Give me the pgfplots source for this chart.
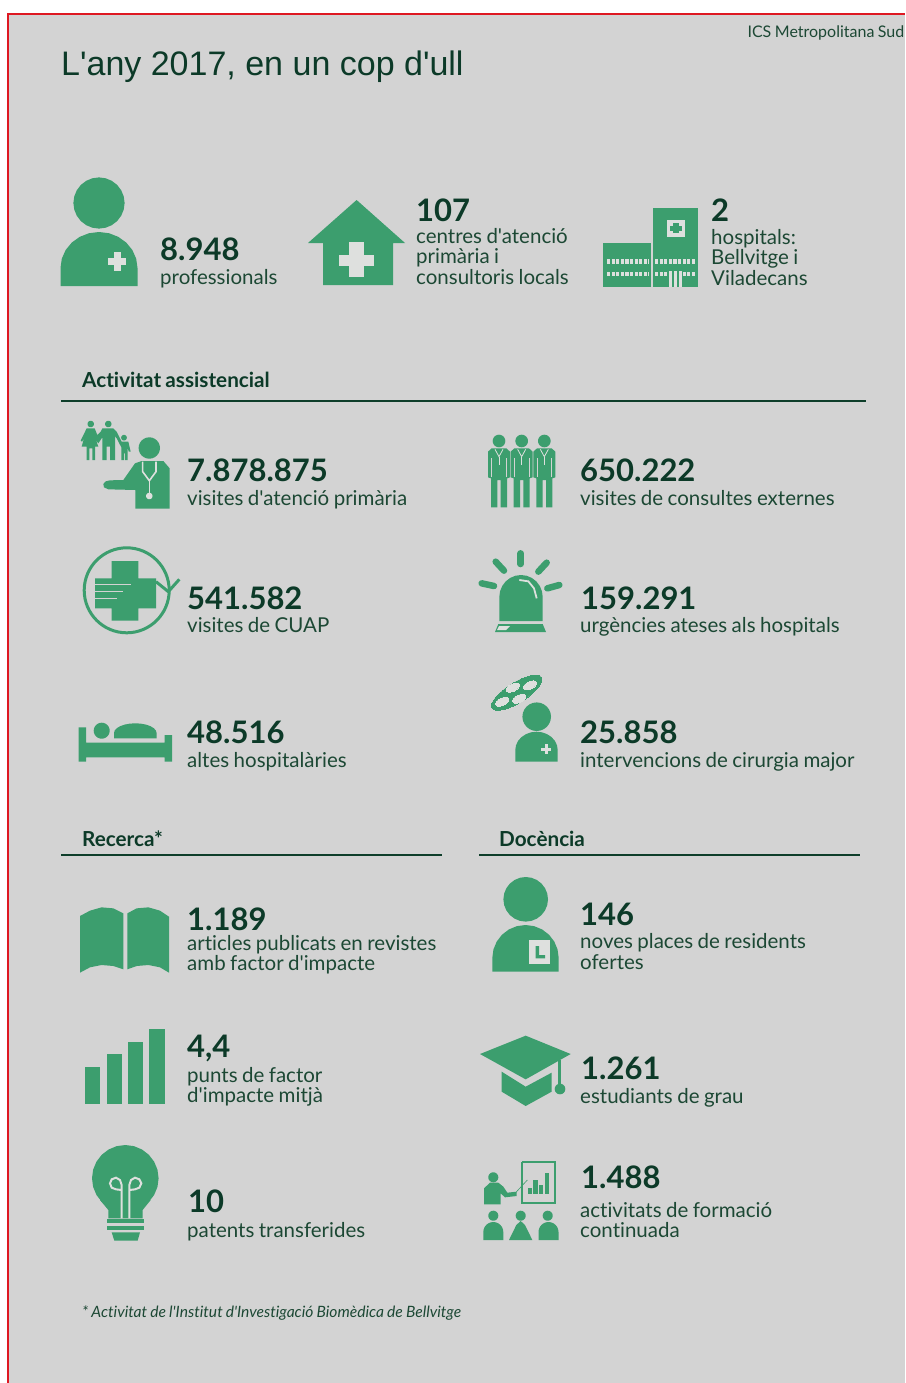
\documentclass[border=0pt]{standalone}
\usepackage{fontspec}
\setmainfont{Lato}[Ligatures={TeXOff,NoCommon},WordSpace=0.85]
\newfontfamily\titlefont{Liberation Sans}[Ligatures=TeXOff]
\usepackage{pgfplots}
\usepackage{pgfplotstable}
\pgfplotsset{compat=1.18}

\definecolor{bgc}{RGB}{211,211,211}
\definecolor{lightc}{RGB}{222,224,222}
\definecolor{igreen}{RGB}{60,158,110}
\definecolor{numc}{RGB}{12,58,40}
\definecolor{bodyc}{RGB}{28,72,52}
\definecolor{linec}{RGB}{14,62,42}
\definecolor{redc}{RGB}{222,24,34}

% unit dome: top of the person / lamp shapes
\pgfplotstableread{
u v w
-1 0 1
-1 0 0
-.966 .259 0
-.866 .5 0
-.707 .707 0
-.5 .866 0
-.259 .966 0
0 1 0
.259 .966 0
.5 .866 0
.707 .707 0
.866 .5 0
.966 .259 0
1 0 0
1 0 1
}\domeTable

% unit circle, as a polygon so that later strokes stay on top of it
\pgfplotstableread{
u v
1 0
.966 .259
.866 .5
.707 .707
.5 .866
.259 .966
0 1
-.259 .966
-.5 .866
-.707 .707
-.866 .5
-.966 .259
-1 0
-.966 -.259
-.866 -.5
-.707 -.707
-.5 -.866
-.259 -.966
0 -1
.259 -.966
.5 -.866
.707 -.707
.866 -.5
.966 -.259
}\circTable

\pgfplotsset{icon/.style={draw=none,mark=none,forget plot}}

% polygon in pixel coords
\newcommand{\pxpoly}[2][igreen]{\addplot[icon,fill=#1] coordinates {#2};}
\newcommand{\pxrect}[5][igreen]{\addplot[icon,fill=#1] coordinates {(#2,#3)(#4,#3)(#4,#5)(#2,#5)};}
% polygon / line in coords of a 3x crop with origin (ox,oy)
\newcommand{\zpoly}[4][igreen]{\addplot[icon,fill=#1,x filter/.expression={#2+x/3},y filter/.expression={#3+y/3}] coordinates {#4};}
\newcommand{\zline}[4][]{\addplot[forget plot,mark=none,#1,x filter/.expression={#2+x/3},y filter/.expression={#3+y/3}] coordinates {#4};}
\newcommand{\dotat}[4][igreen]{\addplot[icon,fill=#1] table[x expr=#2+#4*\thisrow{u},y expr=#3+#4*\thisrow{v}] {\circTable};}
\newcommand{\ellat}[6][igreen]{\addplot[forget plot,only marks,mark=*,color=#1,mark size=#4,mark options={rotate=#6,xscale=#5,fill=#1,draw=#1,line width=0pt}] coordinates {(#2,#3)};}
% dome: cx rx bottom top spring
\newcommand{\dome}[5]{\addplot[icon,fill=igreen] table[x expr=#1+#2*\thisrow{u},y expr=\thisrow{w}*#3+(1-\thisrow{w})*(#5-(#5-#4)*\thisrow{v})] {\domeTable};}
% standing doctor, ox = centre x
\newcommand{\docfig}[1]{%
  \zpoly{#1}{420}{(-22,85)(22,85)(33,95)(33,172)(24,175)(24,262)(5,262)(5,180)(-5,180)(-5,262)(-24,262)(-24,175)(-33,172)(-33,95)}
  \zline[color=lightc,line width=0.8pt]{#1}{420}{(-12,88)(0,110)(12,88)}
  \zline[color=lightc,line width=0.8pt]{#1}{420}{(0,110)(0,135)}
  \zline[color=bgc,line width=0.7pt]{#1}{420}{(-22,115)(-22,172)}
  \zline[color=bgc,line width=0.7pt]{#1}{420}{(22,115)(22,172)}
  \dotat{#1}{441}{6.3}
}

\newcommand{\numfont}{\fontsize{31}{31}\selectfont\bfseries}
\newcommand{\bodyfont}{\fontsize{20.5}{20.5}\selectfont}
\newcommand{\headfont}{\fontsize{20.7}{20.7}\selectfont\bfseries}
\newcommand{\num}[3]{\node[anchor=base west,inner sep=0pt,text=numc,font=\numfont] at (axis cs:#1,#2) {#3};}
\newcommand{\lab}[3]{\node[anchor=base west,inner sep=0pt,text=bodyc,font=\bodyfont] at (axis cs:#1,#2) {#3};}
\newcommand{\hd}[3]{\node[anchor=base west,inner sep=0pt,text=numc,font=\headfont] at (axis cs:#1,#2) {#3};}
\newcommand{\rulex}[3]{\addplot[forget plot,mark=none,color=linec,line width=2pt] coordinates {(#1,#3)(#2,#3)};}

\begin{document}
\begin{tikzpicture}
\begin{axis}[
    width=905pt, height=1383pt, scale only axis,
    xmin=0, xmax=905, ymin=0, ymax=1383, y dir=reverse,
    hide axis, clip=true,
  ]
  % page
  \pxrect[white]{0}{0}{905}{1383}
  \pxrect[bgc]{8}{14}{905}{1383}
  \addplot[forget plot,mark=none,color=redc,line width=2pt] coordinates {(8,1383)(8,14)(905,14)};

  % person 1
  \dotat{99}{203}{25.6}
  \dome{99}{38.5}{286}{232}{268}
  \pxrect[lightc]{108}{258}{126}{265}
  \pxrect[lightc]{113.5}{252}{120.5}{271}

  % house
  \pxpoly{(356.6,200)(405,243)(393,243)(393,285)(323,285)(323,243)(308,243)}
  \pxrect[lightc]{339}{254.5}{374}{266}
  \pxrect[lightc]{349}{242}{363.5}{277}

  % hospital
  \pxrect{603}{243}{651}{287}
  \pxrect{652.5}{208}{698}{287}
  \pxrect[lightc]{666.5}{220}{685}{237}
  \pxrect{672.7}{223}{678.7}{233}
  \pxrect{670}{225.5}{681.5}{230.5}
  \addplot[forget plot,mark=none,color=lightc,line width=5pt,dash pattern=on 3.2pt off 1.4pt] coordinates {(607,261.5)(649,261.5)};
  \addplot[forget plot,mark=none,color=lightc,line width=5pt,dash pattern=on 3.2pt off 1.4pt] coordinates {(655,261.5)(695,261.5)};
  \addplot[forget plot,mark=none,color=lightc,line width=4pt,dash pattern=on 3.2pt off 1.4pt] coordinates {(607,273.5)(649,273.5)};
  \addplot[forget plot,mark=none,color=lightc,line width=4pt,dash pattern=on 3.2pt off 1.4pt] coordinates {(655,273.5)(695,273.5)};
  \pxrect{668}{270}{683}{278}
  \pxrect[lightc]{669}{271}{671.5}{287}
  \pxrect[lightc]{674}{271}{676.5}{287}
  \pxrect[lightc]{679}{271}{681.5}{287}

  % rules
  \rulex{61}{866}{401}
  \rulex{61}{442}{855}
  \rulex{479}{860}{855}

  % family + doctor
  \dotat{90.7}{424}{3.2}
  \dotat{108.3}{424}{3.2}
  \dotat{124}{437.7}{2.8}
  \zpoly{60}{410}{(80,55)(104,55)(112,75)(122,65)(127,55)(160,55)(170,65)(185,95)(205,95)(212,125)(206,125)(203,112)(203,150)(195,150)(195,130)(192,130)(192,150)(184,150)(184,112)(170,85)(165,78)(165,150)(150,150)(150,110)(140,110)(140,150)(127,150)(127,82)(115,100)(108,90)(115,110)(105,110)(105,150)(97,150)(97,115)(88,115)(88,150)(80,150)(80,110)(65,110)(72,85)(66,95)(62,92)}
  \dotat{149.3}{448}{10.7}
  \zpoly{60}{410}{(329,296)(226,296)(226,240)(145,238)(132,232)(130,222)(137,214)(150,211)(190,210)(225,160)(245,153)(310,153)(329,175)}
  \zline[color=lightc,line width=1.6pt]{60}{410}{(248,155)(248,185)(268,212)(288,185)(288,155)}
  \zline[color=lightc,line width=1.6pt]{60}{410}{(268,212)(268,255)}
  \dotat[lightc]{149.3}{496}{3.2}

  % CUAP
  \addplot[forget plot,only marks,mark=o,color=igreen,mark size=42.5,mark options={line width=3pt}] coordinates {(126.7,590.3)};
  \zline[color=igreen,line width=3pt]{60}{410}{(288,515)(325,545)(358,508)}
  \zpoly{60}{410}{(155,453)(235,453)(235,505)(288,505)(288,595)(235,595)(235,632)(155,632)(155,595)(105,595)(105,505)(155,505)}
  \zline[color=bgc,line width=1.5pt]{60}{410}{(103,523)(212,523)}
  \zline[color=bgc,line width=1.5pt]{60}{410}{(103,545)(190,545)}
  \zline[color=bgc,line width=1.5pt]{60}{410}{(103,566)(170,566)}

  % bed
  \zpoly{60}{700}{(56,82)(78,82)(78,128)(314,128)(314,105)(336,105)(336,185)(314,185)(314,172)(78,172)(78,185)(56,185)}
  \dotat{101.7}{730.7}{8}
  \dome{135.3}{21.3}{738.3}{723.3}{733}

  % three doctors
  \docfig{499}
  \docfig{521.67}
  \docfig{544.33}

  % alarm
  \zline[color=igreen,line width=6.5pt,line cap=round]{470}{420}{(152,400)(152,432)}
  \zline[color=igreen,line width=6.5pt,line cap=round]{470}{420}{(77,425)(102,452)}
  \zline[color=igreen,line width=6.5pt,line cap=round]{470}{420}{(230,428)(205,455)}
  \zline[color=igreen,line width=6.5pt,line cap=round]{470}{420}{(35,490)(72,498)}
  \zline[color=igreen,line width=6.5pt,line cap=round]{470}{420}{(268,495)(232,505)}
  \dome{521}{21.7}{621}{575}{597}
  \zline[color=lightc,line width=1.8pt]{470}{420}{(148,480)(175,484)(192,505)(200,535)}
  \zpoly{470}{420}{(85,612)(218,612)(228,636)(75,636)}
  \zpoly[lightc]{470}{420}{(87,618)(120,618)(108,630)(81,630)}

  % surgeon
  \ellat{516.7}{692.7}{10}{2.9}{32}
  \ellat[lightc]{512.7}{687.7}{3.6}{2}{25}
  \ellat[lightc]{530}{685.3}{3.6}{2}{25}
  \ellat[lightc]{502.3}{701.7}{3.6}{2}{25}
  \ellat[lightc]{519.3}{698.7}{3.6}{2}{25}
  \dotat{536.7}{716.7}{14.3}
  \dome{536.5}{21.2}{761.7}{731.7}{750}
  \pxrect[lightc]{541}{747.5}{551}{750.5}
  \pxrect[lightc]{544.5}{744}{547.5}{754}

  % book
  \zpoly{70}{890}{(30,78)(60,62)(95,52)(130,55)(160,70)(160,238)(130,228)(95,225)(60,232)(30,248)}
  \zpoly{70}{890}{(172,70)(200,55)(235,52)(270,62)(297,80)(297,248)(270,232)(235,225)(200,228)(172,238)}

  % bars
  \zpoly{70}{890}{(45,532)(90,532)(90,643)(45,643)}
  \zpoly{70}{890}{(110,493)(155,493)(155,643)(110,643)}
  \zpoly{70}{890}{(175,455)(220,455)(220,643)(175,643)}
  \zpoly{70}{890}{(238,418)(284,418)(284,643)(238,643)}

  % bulb
  \dotat{125.3}{1178.3}{33.3}
  \zpoly{70}{890}{(90,930)(242,930)(218,960)(218,985)(115,985)(115,960)}
  \zpoly{70}{890}{(112,988)(222,988)(222,1000)(112,1000)}
  \zpoly{70}{890}{(112,1008)(222,1008)(222,1020)(112,1020)}
  \zpoly{70}{890}{(125,1027)(210,1027)(203,1052)(133,1052)}
  \zline[color=lightc,line width=2pt]{70}{890}{(155,985)(155,885)(150,870)(138,863)(125,868)(120,880)(125,893)(138,898)(155,900)}
  \zline[color=lightc,line width=2pt]{70}{890}{(178,985)(178,885)(183,870)(195,863)(208,868)(214,880)(208,893)(195,898)(178,900)}

  % resident
  \dotat{525.7}{899.3}{22.3}
  \dome{525.5}{33.2}{971.7}{925}{958}
  \zpoly[lightc]{470}{870}{(178,210)(240,210)(240,282)(178,282)}
  \zpoly{470}{870}{(197,228)(207,228)(207,255)(225,255)(225,265)(197,265)}

  % cap
  \zpoly{470}{870}{(30,552)(167,497)(302,552)(167,628)}
  \zpoly{470}{870}{(95,605)(167,650)(245,608)(245,665)(167,708)(95,665)}
  \zline[color=igreen,line width=2.5pt]{470}{870}{(268,570)(268,650)}
  \dotat{560}{1089}{5.3}

  % teaching
  \zline[color=igreen,line width=2pt]{470}{870}{(156,875)(255,875)(255,1000)(156,1000)(156,875)}
  \zpoly{470}{870}{(173,955)(185,955)(185,972)(173,972)}
  \zpoly{470}{870}{(190,930)(203,930)(203,972)(190,972)}
  \zpoly{470}{870}{(208,945)(220,945)(220,972)(208,972)}
  \zpoly{470}{870}{(225,908)(238,908)(238,972)(225,972)}
  \dotat{493.3}{1177.3}{5}
  \zpoly{470}{870}{(42,955)(60,938)(85,938)(100,950)(112,968)(140,965)(140,978)(105,982)(92,970)(92,1003)(42,1003)}
  \zline[color=igreen,line width=0.6pt]{470}{870}{(135,970)(172,930)}
  \dotat{493.3}{1215.7}{5}
  \dotat{520.7}{1215.7}{5}
  \dotat{547.7}{1215.7}{5}
  \dome{493.3}{10}{1240}{1222}{1232}
  \dome{548.5}{10}{1240}{1222}{1232}
  \zpoly{470}{870}{(117,1110)(187,1110)(165,1065)(152,1053)(139,1065)}

  % text
  \node[anchor=base west,inner sep=0pt,text=numc,font=\titlefont\fontsize{34}{34}\selectfont] at (axis cs:61,76) {L'any 2017, en un cop d'ull};
  \node[anchor=base east,inner sep=0pt,text=bodyc,font=\fontsize{16}{16}\selectfont] at (axis cs:904.5,38) {ICS Metropolitana Sud};

  \num{160}{260}{8.948}
  \lab{160}{284}{professionals}
  \num{416}{222}{107}
  \lab{416}{243}{centres d'atenció}
  \lab{416}{263}{primària i}
  \lab{416}{284}{consultoris locals}
  \num{711}{222}{2}
  \lab{711}{244}{hospitals:}
  \lab{711}{264}{Bellvitge i}
  \lab{711}{285}{Viladecans}

  \hd{82}{387}{Activitat assistencial}
  \num{187}{481}{7.878.875}
  \lab{187}{505}{visites d'atenció primària}
  \num{580}{481}{650.222}
  \lab{580}{505}{visites de consultes externes}
  \num{187}{609}{541.582}
  \lab{187}{632}{visites de CUAP}
  \num{581}{609}{159.291}
  \lab{580}{632}{urgències ateses als hospitals}
  \num{187}{743}{48.516}
  \lab{187}{767}{altes hospitalàries}
  \num{580}{743}{25.858}
  \lab{580}{767}{intervencions de cirurgia major}

  \hd{82}{846}{Recerca*}
  \hd{499}{846}{Docència}
  \num{187}{930}{1.189}
  \lab{187}{950}{articles publicats en revistes}
  \lab{187}{970}{amb factor d'impacte}
  \num{580}{925}{146}
  \lab{580}{948}{noves places de residents}
  \lab{580}{969}{ofertes}
  \num{187}{1057}{4,4}
  \lab{187}{1082}{punts de factor}
  \lab{187}{1102}{d'impacte mitjà}
  \num{581}{1079}{1.261}
  \lab{580}{1103}{estudiants de grau}
  \num{188}{1212}{10}
  \lab{187}{1237}{patents transferides}
  \num{581}{1188}{1.488}
  \lab{580}{1217}{activitats de formació}
  \lab{580}{1237}{continuada}

  \node[anchor=base west,inner sep=0pt,text=bodyc,font=\itshape\fontsize{15.6}{15.6}\selectfont] at (axis cs:82,1317) {* Activitat de l'Institut d'Investigació Biomèdica de Bellvitge};
\end{axis}
\end{tikzpicture}
\end{document}
